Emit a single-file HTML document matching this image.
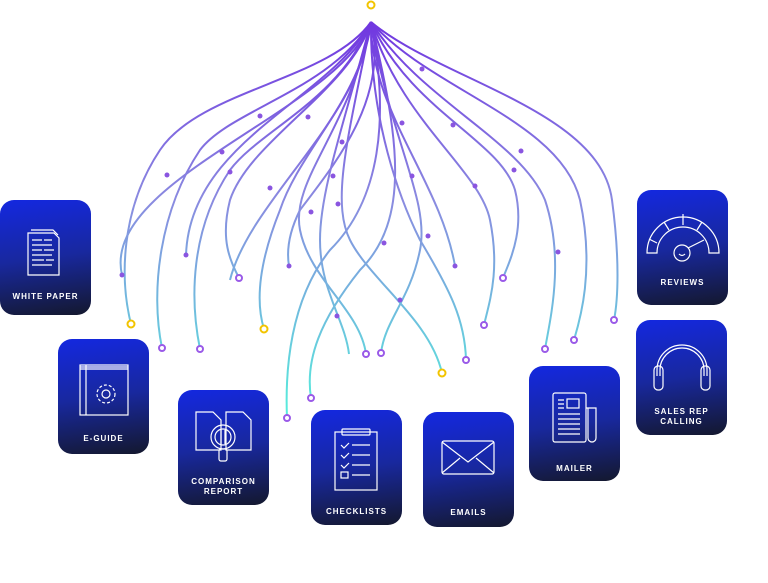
<!DOCTYPE html>
<html><head><meta charset="utf-8"><style>
body{margin:0;width:768px;height:583px;background:#fff;position:relative;overflow:hidden;font-family:"Liberation Sans",sans-serif}
.c{position:absolute;width:91px;height:115px;border-radius:14px;background:linear-gradient(172deg,#1428e0 0%,#18289e 50%,#14182e 100%);color:#fff;text-align:center;box-sizing:border-box}
.c svg{position:absolute;left:0;top:0}
.l{position:absolute;left:0;right:0;font-size:8px;font-weight:bold;letter-spacing:1px;line-height:10px}
</style></head><body>
<svg width="768" height="583" style="position:absolute;left:0;top:0">
<defs><linearGradient id="g" gradientUnits="userSpaceOnUse" x1="0" y1="20" x2="0" y2="420"><stop offset="0" stop-color="#7035e0"/><stop offset="0.45" stop-color="#8a8ae0"/><stop offset="1" stop-color="#55f0dc"/></linearGradient></defs>
<g fill="none" stroke="url(#g)" stroke-width="2">
<path d="M371,22 C330,80 200,90 160,150 C120,210 120,280 131,324"/>
<path d="M371,22 C330,90 230,110 200,150 C160,210 150,290 162,348"/>
<path d="M371,22 C340,100 260,130 230,170 C190,230 190,300 200,349"/>
<path d="M371,22 C350,90 250,140 230,200 C220,240 230,260 239,278"/>
<path d="M371,22 C330,100 190,140 186,255"/>
<path d="M371,22 C360,100 300,150 280,210 C260,260 255,300 264,329"/>
<path d="M371,22 C390,120 380,200 330,250 C290,300 285,370 287,418"/>
<path d="M371,22 C400,140 410,220 360,270 C320,320 305,360 311,398"/>
<path d="M371,22 C345,120 320,190 320,240 C320,290 345,320 349,354"/>
<path d="M371,22 C350,130 290,180 300,230 C310,280 360,310 366,354"/>
<path d="M371,22 C390,140 430,200 420,250 C410,300 385,320 381,353"/>
<path d="M371,22 C350,130 330,200 350,240 C370,280 430,320 442,373"/>
<path d="M371,22 C370,120 400,200 420,240 C450,290 465,320 466,360"/>
<path d="M371,22 C400,120 480,170 490,220 C500,270 490,300 484,325"/>
<path d="M371,22 C410,110 500,140 515,190 C525,230 510,260 503,278"/>
<path d="M371,22 C420,100 520,140 545,200 C565,260 550,320 545,349"/>
<path d="M371,22 C430,90 560,120 580,200 C595,270 580,320 574,340"/>
<path d="M371,22 C440,80 600,110 612,200 C620,260 618,300 614,320"/>
<path d="M371,22 C370,110 440,180 455,266"/>
<path d="M371,22 C390,100 330,170 300,210 C285,240 288,260 289,266"/>
<path d="M371,22 C340,110 100,180 122,275"/>
<path d="M371,22 C360,120 250,200 230,280"/>
</g>
<g fill="#fff" stroke="#9a5ae8" stroke-width="2">
<circle cx="162" cy="348" r="3"/><circle cx="200" cy="349" r="3"/><circle cx="239" cy="278" r="3"/><circle cx="287" cy="418" r="3"/><circle cx="311" cy="398" r="3"/><circle cx="366" cy="354" r="3"/><circle cx="381" cy="353" r="3"/><circle cx="466" cy="360" r="3"/><circle cx="484" cy="325" r="3"/><circle cx="503" cy="278" r="3"/><circle cx="545" cy="349" r="3"/><circle cx="574" cy="340" r="3"/><circle cx="614" cy="320" r="3"/>
</g>
<g fill="#fff" stroke="#f2c400" stroke-width="2"><circle cx="371" cy="5" r="3.5"/><circle cx="131" cy="324" r="3.5"/><circle cx="264" cy="329" r="3.5"/><circle cx="442" cy="373" r="3.5"/></g>
<g fill="#8a55e0">
<circle cx="260" cy="116" r="2.5"/><circle cx="308" cy="117" r="2.5"/><circle cx="222" cy="152" r="2.5"/><circle cx="230" cy="172" r="2.5"/><circle cx="167" cy="175" r="2.5"/><circle cx="342" cy="142" r="2.5"/><circle cx="402" cy="123" r="2.5"/><circle cx="422" cy="69" r="2.5"/><circle cx="453" cy="125" r="2.5"/><circle cx="521" cy="151" r="2.5"/><circle cx="514" cy="170" r="2.5"/><circle cx="475" cy="186" r="2.5"/><circle cx="412" cy="176" r="2.5"/><circle cx="333" cy="176" r="2.5"/><circle cx="270" cy="188" r="2.5"/><circle cx="311" cy="212" r="2.5"/><circle cx="338" cy="204" r="2.5"/><circle cx="384" cy="243" r="2.5"/><circle cx="428" cy="236" r="2.5"/><circle cx="186" cy="255" r="2.5"/><circle cx="122" cy="275" r="2.5"/><circle cx="289" cy="266" r="2.5"/><circle cx="455" cy="266" r="2.5"/><circle cx="558" cy="252" r="2.5"/><circle cx="337" cy="316" r="2.5"/><circle cx="400" cy="300" r="2.5"/>
</g>
</svg>

<div class="c" style="left:0;top:200px">
<svg width="91" height="115" fill="none" stroke="#fff" stroke-width="1.2"><path d="M28,33 h26 l5,5 v37 h-31z"/><path d="M31,30 h22 l5,5"/><path d="M32,40h10M44,40h8M32,45h20M32,50h10M44,50h10M32,55h20M32,60h12M46,60h8M32,65h20"/></svg>
<div class="l" style="top:92px">WHITE PAPER</div></div>

<div class="c" style="left:58px;top:339px">
<svg width="91" height="115" fill="none" stroke="#fff" stroke-width="1.2"><rect x="22" y="26" width="48" height="50"/><path d="M28,26v50M22,30h48M22,28h48"/><circle cx="48" cy="55" r="4"/><circle cx="48" cy="55" r="9" stroke-dasharray="3 2"/></svg>
<div class="l" style="top:95px">E-GUIDE</div></div>

<div class="c" style="left:178px;top:390px">
<svg width="91" height="115" fill="none" stroke="#fff" stroke-width="1.2"><path d="M18,22h17l8,8v30h-25z"/><path d="M48,22h17l8,8v30h-25z"/><circle cx="45" cy="47" r="12"/><circle cx="45" cy="47" r="8"/><path d="M43,40v14M47,40v14"/><rect x="41" y="59" width="8" height="12" rx="2"/></svg>
<div class="l" style="top:87px">COMPARISON<br>REPORT</div></div>

<div class="c" style="left:311px;top:410px">
<svg width="91" height="115" fill="none" stroke="#fff" stroke-width="1.2"><rect x="24" y="22" width="42" height="58"/><rect x="31" y="19" width="28" height="6" rx="1"/><path d="M30,35l3,3l5,-5M41,35h18M30,45l3,3l5,-5M41,45h18M30,55l3,3l5,-5M41,55h18M41,65h18"/><rect x="30" y="62" width="7" height="6"/></svg>
<div class="l" style="top:97px">CHECKLISTS</div></div>

<div class="c" style="left:423px;top:412px">
<svg width="91" height="115" fill="none" stroke="#fff" stroke-width="1.2"><rect x="19" y="29" width="52" height="33" rx="2"/><path d="M19,30l26,20l26,-20M19,61l18,-15M71,61l-18,-15"/></svg>
<div class="l" style="top:96px">EMAILS</div></div>

<div class="c" style="left:529px;top:366px">
<svg width="91" height="115" fill="none" stroke="#fff" stroke-width="1.2"><rect x="24" y="27" width="33" height="49" rx="2"/><path d="M57,42h10v30a4,4 0 0 1 -8,0v-30"/><rect x="38" y="33" width="12" height="9"/><path d="M29,34h6M29,38h6M29,42h6M29,48h22M29,53h22M29,58h22M29,63h22M29,68h22"/></svg>
<div class="l" style="top:98px">MAILER</div></div>

<div class="c" style="left:637px;top:190px">
<svg width="91" height="115" fill="none" stroke="#fff" stroke-width="1.2"><path d="M10,63a36,36 0 0 1 72,0h-10a26,26 0 0 0 -52,0z"/><path d="M20,53l-8,-4M32,40l-5,-8M46,35v-11M60,40l5,-8"/><circle cx="45" cy="63" r="8"/><path d="M42,64q3,3 6,0M51,58l16,-8"/></svg>
<div class="l" style="top:88px">REVIEWS</div></div>

<div class="c" style="left:636px;top:320px">
<svg width="91" height="115" fill="none" stroke="#fff" stroke-width="1.2"><path d="M21,56v-6a25,25 0 0 1 50,0v6"/><path d="M24,56v-6a22,22 0 0 1 44,0v6"/><rect x="18" y="46" width="9" height="24" rx="4"/><rect x="65" y="46" width="9" height="24" rx="4"/></svg>
<div class="l" style="top:87px">SALES REP<br>CALLING</div></div>
</body></html>
